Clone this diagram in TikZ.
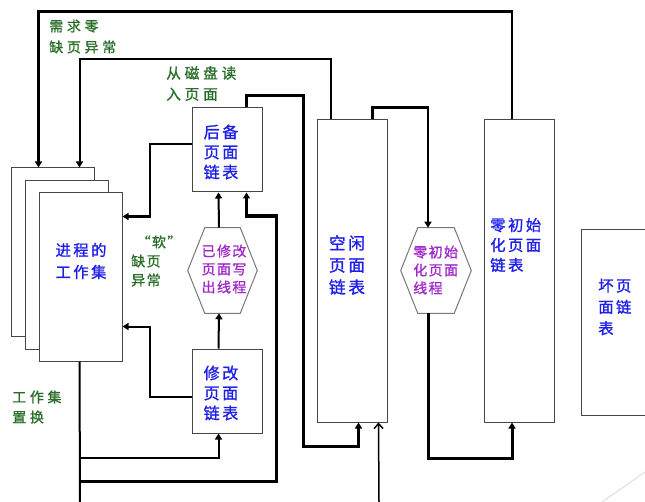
\documentclass[tikz,border=0pt]{standalone}
\usepackage{fontspec}
\usetikzlibrary{arrows.meta,calc}
\newfontfamily\cjkbox[LetterSpace=16, FakeBold=1.2]{Noto Sans CJK SC}
\newfontfamily\cjkhex[LetterSpace=10, FakeBold=1]{Noto Sans CJK SC}
\newfontfamily\cjknote[LetterSpace=26, FakeBold=1]{Noto Sans CJK SC}
\definecolor{listblue}{RGB}{30,30,235}
\definecolor{threadpurple}{RGB}{160,40,200}
\definecolor{notegreen}{RGB}{40,110,40}
\definecolor{boxgray}{RGB}{70,70,70}
\definecolor{hexgray}{RGB}{120,120,120}
% one unit = one pixel (0.75pt)
\tikzset{
  x=0.75pt, y=-0.75pt,
  box/.style={draw=boxgray, line width=0.75pt, fill=white, inner sep=0pt},
  wsbox/.style={box, minimum width=62.25pt, minimum height=126pt},
  smallbox/.style={box, minimum width=52.5pt, minimum height=63pt},
  tallbox/.style={box, minimum width=52.5pt, minimum height=226.5pt},
  hexbox/.style={inner sep=0pt, minimum width=51.75pt, minimum height=63.75pt},
  hexline/.style={draw=hexgray, line width=0.75pt},
  listtext/.style={text=listblue, inner sep=0pt, align=center},
  threadtext/.style={text=threadpurple, inner sep=0pt},
  notetext/.style={text=notegreen, inner sep=0pt, align=left, anchor=west},
  wA/.style={line width=1.5pt, -{Triangle[length=4.5pt, width=5.25pt]}},
  wB/.style={line width=1.875pt, -{Triangle[length=4.5pt, width=5.25pt]}},
  wC/.style={line width=2.25pt, -{Triangle[length=4.5pt, width=5.25pt]}},
}
\begin{document}
\begin{tikzpicture}
\useasboundingbox (0,0) rectangle (645,502);
\clip (0,0) rectangle (645,502);
\fill[white] (0,0) rectangle (645,502);

% stacked working-set sheets
\node[wsbox] (ws1) at (52.5,252) {};
\node[wsbox] (ws2) at (66.5,265) {};
\node[wsbox] (ws3) at (80.5,277) {};
\node[listtext, font=\cjkbox\fontsize{11.5}{16.5}\selectfont] (wsT) at (81,261) {进程的\\工作集};

% page lists
\node[smallbox] (backup) at (227,150) {};
\node[listtext, font=\cjkbox\fontsize{12}{15}\selectfont] (backupT) at (221,152) {后备\\页面\\链表};
\node[smallbox] (mod) at (227,391) {};
\node[listtext, font=\cjkbox\fontsize{12}{15}\selectfont] (modT) at (221,393) {修改\\页面\\链表};
\node[tallbox] (free) at (352,271) {};
\node[listtext, font=\cjkbox\fontsize{12.5}{16.5}\selectfont] (freeT) at (347,265) {空闲\\页面\\链表};
\node[tallbox] (zero) at (519,271) {};
\node[listtext, align=left, anchor=west, font=\cjkbox\fontsize{11.5}{15}\selectfont] (zeroT) at (490,245) {零初始\\化页面\\链表};
\node[box, minimum width=60pt, minimum height=139.5pt] (bad) at (621,322) {};
\node[listtext, align=left, anchor=west, font=\cjkbox\fontsize{11.5}{16}\selectfont] (badT) at (598,307) {坏页\\面链\\表};

% thread hexagons
\node[hexbox] (hexM) at (222.5,270.5) {};
\draw[hexline] (hexM.west) -- ($(hexM.north west)+(17,0)$) -- ($(hexM.north east)+(-17,0)$)
  -- (hexM.east) -- ($(hexM.south east)+(-17,0)$) -- ($(hexM.south west)+(17,0)$) -- cycle;
\node[threadtext, align=center, font=\cjkhex\fontsize{10.5}{13.5}\selectfont] (hexMT) at (224,269) {已修改\\页面写\\出线程};
\node[hexbox, minimum width=52.5pt] (hexZ) at (436,270.5) {};
\draw[hexline] (hexZ.west) -- ($(hexZ.north west)+(17,0)$) -- ($(hexZ.north east)+(-17,0)$)
  -- (hexZ.east) -- ($(hexZ.south east)+(-17,0)$) -- ($(hexZ.south west)+(17,0)$) -- cycle;
\node[threadtext, align=left, anchor=west, font=\cjkhex\fontsize{10.5}{13.5}\selectfont] (hexZT) at (413,270) {零初始\\化页面\\线程};

% notes
\node[notetext, font=\cjknote\fontsize{10.5}{15.75}\selectfont] (needL) at (49,36.5) {需求零\\缺页异常};
\node[notetext, font=\cjknote\fontsize{11}{15.75}\selectfont] (diskL) at (166,83.5) {从磁盘读\\入页面};
\node[notetext, font=\cjkhex\fontsize{10.5}{14.25}\selectfont] (softL) at (131,261) {\hspace*{4pt}“软”\\缺页\\异常};
\node[notetext, font=\cjknote\fontsize{10.5}{15}\selectfont] (replL) at (12,407) {工作集\\置换};

% bend points
\coordinate (d1) at (303,96);
\coordinate (d2) at (303,446);
\coordinate (j1) at (80,458);
\coordinate (j2) at (80,481);
\coordinate (wsEnd) at (80,502);
\coordinate (k1) at (276,216);
\coordinate (inb) at (379,502);

% demand-zero fault: zero-initialised list -> working set
\draw[wB] ($(zero.north)+(-7,0)$) -- ++(0,-108) -| ($(ws1.north west)+(28,0)$);
% free list -> working set
\draw[wA] ($(free.north west)+(14,0)$) -- ++(0,-60) -| ($(ws1.north west)+(69,0)$);
% page read from disk into the free list
\draw[wC] ($(backup.north west)+(55,0)$) |- (d1) -- (d2) -| ($(free.south west)+(42,0)$);
% free list -> zeroing thread -> zero-initialised list
\draw[wB] ($(free.north west)+(56,0)$) -- ++(0,-12) -| ($(hexZ.north)+(-8,0)$);
\draw[wC] ($(hexZ.south)+(-8,0)$) -- ++(0,145) -| ($(zero.south)+(-7,0)$);
% soft faults back into the working set
\draw[wA] ($(backup.west)+(0,-6)$) -- ++(-42,0) |- ($(ws3.north east)+(0,24)$);
\draw[wA] ($(mod.west)+(0,6)$) -- ++(-42,0) |- ($(ws3.south east)+(0,-35)$);
% modified list -> writer thread -> standby list
\draw[wA] ($(mod.north west)+(27,0)$) -- ($(hexM.south)+(-3.5,0)$);
\draw[wA] ($(hexM.north)+(-3.5,0)$) -- ($(backup.south west)+(27,0)$);
% working-set trimming
\draw[line width=1.5pt] ($(ws3.south west)+(41,0)$) -- (wsEnd);
\draw[wA] (j1) -| ($(mod.south west)+(27,0)$);
\draw[wC] (j2) -| (k1) -| ($(backup.south west)+(55,0)$);
% incoming pages to the free list
\draw[line width=1.125pt, -{Straight Barb[length=3.75pt, width=6.75pt]}] (inb) -- ($(free.south west)+(62,0)$);

% faint corner stroke
\draw[black!12, line width=0.75pt] (602,502) -- (645,472);
\end{tikzpicture}
\end{document}
